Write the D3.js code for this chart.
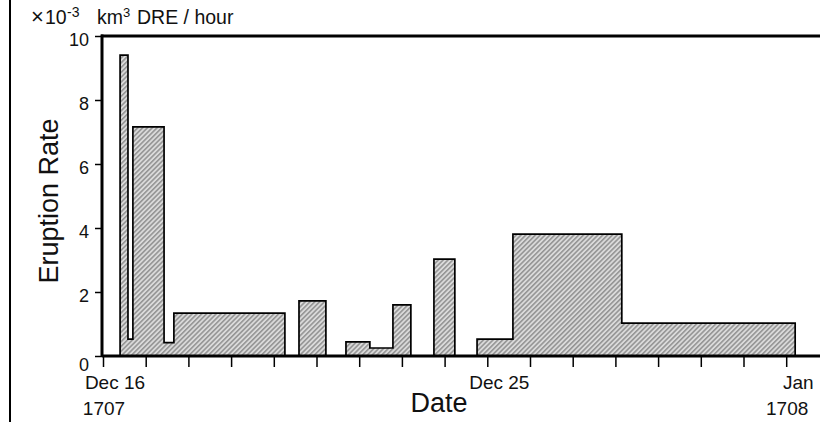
<!DOCTYPE html>
<html>
<head>
<meta charset="utf-8">
<script src="https://cdn.jsdelivr.net/npm/d3@7"></script>
<style>
  html, body { margin: 0; padding: 0; background: #fff; }
  svg { display: block; font-family: Arial, "Liberation Sans", Helvetica, sans-serif; }
</style>
</head>
<body>
<svg id="chart" width="820" height="422"></svg>
<script>
// ---- data ----
// start of each step, in days after 16 Dec 1707 00:00
const stepStartDays = [0.40, 0.585, 0.70, 1.43, 1.66, 4.26, 4.59, 5.22, 5.69, 6.25, 6.79, 7.21, 7.75, 8.24, 8.76, 9.60, 12.15, 16.21];
// eruption rate (×10^-3 km3 DRE / hour) from that start until the next step
const eruptionRates = [9.4, 0.53, 7.16, 0.42, 1.34, 0, 1.72, 0, 0.44, 0.25, 1.6, 0, 3.03, 0, 0.53, 3.81, 1.03, 0];
const yTickValues = [0, 2, 4, 6, 8, 10];
const xLabelDays = [0, 9, 16];
const xLabelDates = ["Dec 16", "Dec 25", "Jan"];
const xLabelYears = ["1707", "", "1708"];

const base = new Date(Date.UTC(1707, 11, 16));
const toDate = d => new Date(base.getTime() + d * 864e5);

const svg = d3.select("#chart");
const W = 820, H = 422;
const x = d3.scaleUtc().domain([toDate(0), toDate(16)]).range([103, 786.2]);
const y = d3.scaleLinear().domain([0, 10]).range([356, 36]);

// hatch pattern
const defs = svg.append("defs");
const pat = defs.append("pattern")
  .attr("id", "hatch").attr("patternUnits", "userSpaceOnUse")
  .attr("width", 3.4).attr("height", 3.4)
  .attr("patternTransform", "rotate(45)");
pat.append("rect").attr("width", 3.4).attr("height", 3.4).attr("fill", "#dadada");
pat.append("line").attr("x1", 0.8).attr("y1", 0).attr("x2", 0.8).attr("y2", 3.4)
  .attr("stroke", "#858585").attr("stroke-width", 1.3);

// frame line at far left
svg.append("line").attr("x1", 10).attr("x2", 10).attr("y1", 0).attr("y2", H)
  .attr("stroke", "#000").attr("stroke-width", 2);

const pts = [{d: stepStartDays[0], r: 0}].concat(
  stepStartDays.map((d, i) => ({d, r: eruptionRates[i]})));

const area = d3.area().curve(d3.curveStepAfter)
  .x(p => x(toDate(p.d))).y0(y(0)).y1(p => y(p.r));
svg.append("path").datum(pts).attr("d", area).attr("fill", "url(#hatch)");

// baseline
svg.append("line").attr("x1", 102).attr("x2", W).attr("y1", y(0)).attr("y2", y(0))
  .attr("stroke", "#000").attr("stroke-width", 3);

const line = d3.line().curve(d3.curveStepAfter)
  .x(p => x(toDate(p.d))).y(p => y(p.r));
svg.append("path").datum(pts).attr("d", line)
  .attr("fill", "none").attr("stroke", "#000").attr("stroke-width", 1.7);

// top border
svg.append("line").attr("x1", 101).attr("x2", W).attr("y1", y(10)).attr("y2", y(10))
  .attr("stroke", "#000").attr("stroke-width", 3);

// y axis
const yAxis = d3.axisLeft(y).tickValues(yTickValues).tickSize(7).tickPadding(6);
const gy = svg.append("g").attr("transform", "translate(102,0)").call(yAxis);
gy.select(".domain").attr("stroke-width", 3).attr("d", `M0,${y(10)-1.5}V${y(0)}`);
gy.selectAll(".tick line").attr("stroke-width", 1.5);
gy.selectAll(".tick text").attr("font-size", 18).attr("font-family", "Arial, 'Liberation Sans', sans-serif")
  .attr("fill", "#111").attr("dy", d => d === 0 ? "0.78em" : "0.55em");

// x axis (daily ticks)
const xAxis = d3.axisBottom(x).ticks(d3.utcDay.every(1)).tickSize(11).tickFormat("");
const gx = svg.append("g").attr("transform", `translate(0,${y(0)})`).call(xAxis);
gx.select(".domain").remove();
gx.selectAll(".tick line").attr("stroke-width", 1.5);

const lab = svg.append("g").attr("font-size", 19).attr("fill", "#111").attr("text-anchor", "middle");
lab.selectAll("text.dt").data(xLabelDays).join("text").attr("class", "dt")
  .attr("x", d => x(toDate(d)) + 12).attr("y", 389).text((d, i) => xLabelDates[i]);
lab.selectAll("text.yr").data(xLabelDays).join("text").attr("class", "yr")
  .attr("x", d => x(toDate(d)) + 1).attr("y", 415).text((d, i) => xLabelYears[i]);

// axis titles
svg.append("text").attr("x", 439).attr("y", 412).attr("text-anchor", "middle")
  .attr("font-size", 27).attr("fill", "#111").text("Date");
svg.append("text").attr("transform", "translate(58,201) rotate(-90)").attr("text-anchor", "middle")
  .attr("font-size", 27).attr("fill", "#111").text("Eruption Rate");

// unit label
const uy = 24;
const ug = svg.append("g").attr("fill", "#111").attr("font-size", 19.5);
ug.append("text").attr("x", 31).attr("y", uy).attr("font-size", 22).text("\u00d7");
ug.append("text").attr("x", 45).attr("y", uy).text("10");
ug.append("text").attr("x", 67).attr("y", uy - 7).attr("font-size", 14).text("-3");
ug.append("text").attr("x", 97).attr("y", uy).text("km");
ug.append("text").attr("x", 123).attr("y", uy - 7).attr("font-size", 13).text("3");
ug.append("text").attr("x", 137).attr("y", uy).text("DRE / hour");
</script>
</body>
</html>
